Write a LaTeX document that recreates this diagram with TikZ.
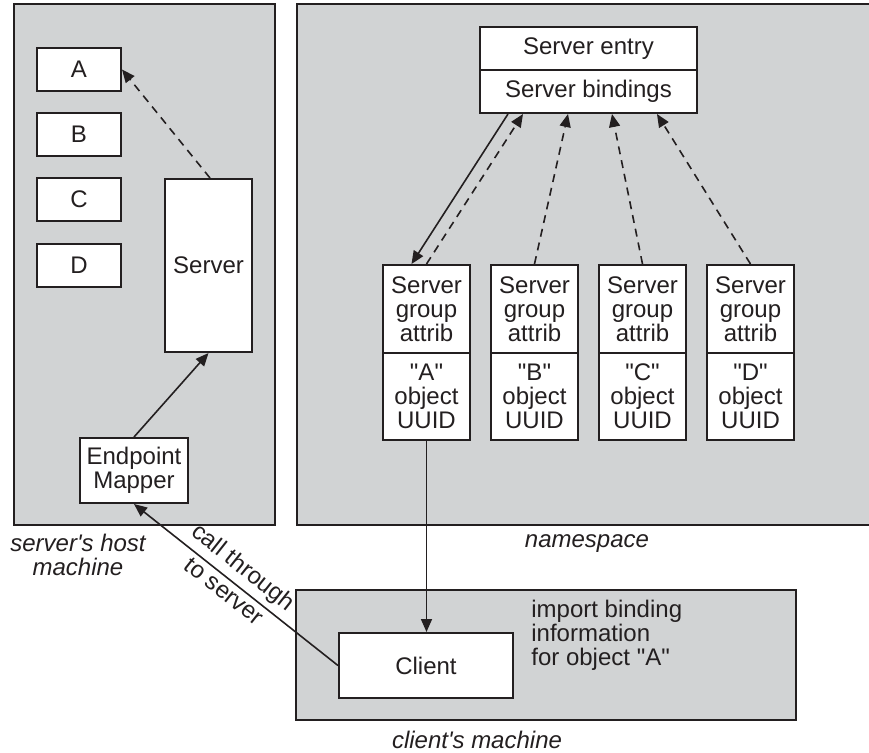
\documentclass[tikz,border=0pt]{standalone}
\usepackage{fontspec}
\setmainfont{Liberation Sans}
\usepackage{tikz}
\usetikzlibrary{shapes}
\usetikzlibrary{arrows.meta}

\definecolor{panelgray}{RGB}{209,211,212}
\definecolor{ink}{RGB}{35,31,32}

\begin{document}
\begin{tikzpicture}[x=0.5pt,y=-0.5pt,color=ink,
        font=\fontsize{12}{12}\selectfont,
        panel/.style={draw=ink,line width=1pt,fill=panelgray},
        box/.style={draw=ink,line width=1pt,fill=white,inner sep=0pt,align=center},
        machinetext/.style={font=\fontsize{12}{12}\selectfont\itshape,align=center,inner sep=0pt},
        arr/.style={line width=0.8pt,-{Triangle[length=6.5pt,width=5.5pt]}},
        dasharr/.style={arr,dash pattern=on 4pt off 3pt}]
        \useasboundingbox (0,0) rectangle (869,752);
        \draw[panel] (14,4) rectangle (275,525);
        \draw[panel] (297,4) rectangle (871,525);
        \draw[panel] (296,590) rectangle (796,720);
        \foreach \n/\y in {A/69.5,B/134.5,C/199.5,D/265}
            \node[box,minimum width=42pt,minimum height=21.5pt] (\n) at (79,\y) {\n};
        \node[box,minimum width=43.5pt,minimum height=86.5pt] (server) at (208.5,265.5) {Server};
        \node[box,minimum width=54pt,minimum height=32.5pt] (mapper) at (134,470.5) {Endpoint\\Mapper};
        \node[box,minimum width=108.5pt,minimum height=21.5pt] (entry) at (588.5,48.5) {Server entry};
        \node[box,minimum width=108.5pt,minimum height=21.5pt] (bindings) at (588.5,91.5) {Server bindings};
        \foreach \n/\x in {A/426.5,B/534.5,C/642.5,D/750.5} {
            \node[box,minimum width=43.5pt,minimum height=44pt] (g\n) at (\x,309) {Server\\group\\attrib};
            \node[box,minimum width=43.5pt,minimum height=43.5pt] (o\n) at (\x,396.5) {\textquotedbl\n\textquotedbl\\object\\UUID};
        }
        \node[box,minimum width=87pt,minimum height=32.5pt] (client) at (426,665.5) {Client};
        \node[machinetext] (hostlbl) at (78,555) {server\textquotesingle s host\\machine};
        \node[machinetext] (nslbl) at (587,544) {namespace};
        \node[machinetext] (clientlbl) at (477,740) {client\textquotesingle s machine};
        \node[anchor=west,align=left,inner sep=0pt] (importlbl) at (531,635) {import binding\\information\\for object \textquotedbl A\textquotedbl};
        \draw[dasharr] ([xshift=0.75pt]server.north) -- (A.east);
        \draw[arr] (mapper.north) -- (server.south);
        \draw[arr] ([xshift=-40.25pt]bindings.south) -- ([xshift=-7.5pt]gA.north);
        \draw[dasharr] (gA.north) -- ([xshift=-32.75pt]bindings.south);
        \draw[dasharr] (gB.north) -- ([xshift=-10.25pt]bindings.south);
        \draw[dasharr] (gC.north) -- ([xshift=11.75pt]bindings.south);
        \draw[dasharr] (gD.north) -- ([xshift=34.25pt]bindings.south);
        \draw[arr] (oA.south) -- (oA.south |- client.north);
        \draw[arr] (client.west) -- (mapper.south)
            node[pos=0.52,sloped,align=center,inner sep=0pt,yshift=2pt] (calllbl) {call through\\[3.5pt]to server};
\end{tikzpicture}
\end{document}
